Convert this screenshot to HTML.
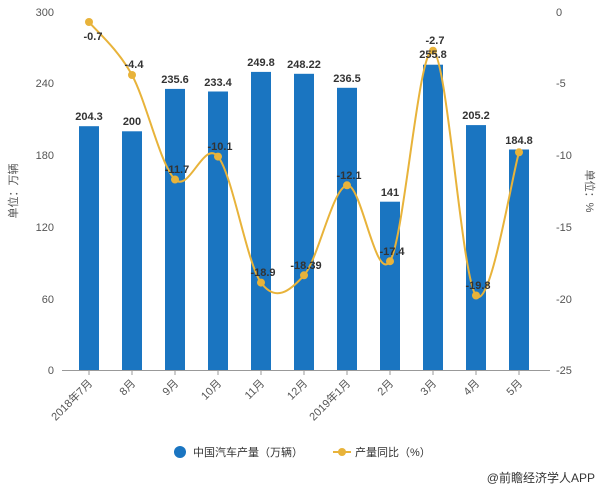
<!DOCTYPE html>
<html><head><meta charset="utf-8"><style>
html,body{margin:0;padding:0;background:#fff;}
svg{display:block;font-family:"Liberation Sans","Noto Sans CJK SC",sans-serif;}
</style></head><body>
<svg width="602" height="488" viewBox="0 0 602 488">
<g font-size="11" fill="#555">
<text x="54" y="16" text-anchor="end">300</text>
<text x="54" y="87" text-anchor="end">240</text>
<text x="54" y="159" text-anchor="end">180</text>
<text x="54" y="231" text-anchor="end">120</text>
<text x="54" y="303" text-anchor="end">60</text>
<text x="54" y="374" text-anchor="end">0</text>
<text x="556" y="16">0</text>
<text x="556" y="87">-5</text>
<text x="556" y="159">-10</text>
<text x="556" y="231">-15</text>
<text x="556" y="303">-20</text>
<text x="556" y="374">-25</text>
</g>
<text transform="translate(17,191) rotate(-90)" font-size="11" fill="#555" text-anchor="middle">单位：万辆</text>
<text transform="translate(586,191) rotate(90)" font-size="11" fill="#555" text-anchor="middle">单位：%</text>
<g fill="#1a75c1">
<rect x="79" y="126.2" width="20" height="243.8"/>
<rect x="122" y="131.3" width="20" height="238.7"/>
<rect x="165" y="88.9" width="20" height="281.1"/>
<rect x="208" y="91.5" width="20" height="278.5"/>
<rect x="251" y="71.9" width="20" height="298.1"/>
<rect x="294" y="73.8" width="20" height="296.2"/>
<rect x="337" y="87.8" width="20" height="282.2"/>
<rect x="380" y="201.7" width="20" height="168.3"/>
<rect x="423" y="64.7" width="20" height="305.3"/>
<rect x="466" y="125.1" width="20" height="244.9"/>
<rect x="509" y="149.5" width="20" height="220.5"/>
</g>
<line x1="62" y1="370.5" x2="550" y2="370.5" stroke="#999"/>
<g stroke="#999">
<line x1="89" y1="370" x2="89" y2="375"/><line x1="132" y1="370" x2="132" y2="375"/><line x1="175" y1="370" x2="175" y2="375"/><line x1="218" y1="370" x2="218" y2="375"/><line x1="261" y1="370" x2="261" y2="375"/><line x1="304" y1="370" x2="304" y2="375"/><line x1="347" y1="370" x2="347" y2="375"/><line x1="390" y1="370" x2="390" y2="375"/><line x1="433" y1="370" x2="433" y2="375"/><line x1="476" y1="370" x2="476" y2="375"/><line x1="519" y1="370" x2="519" y2="375"/>
</g>
<g font-size="11" fill="#555" text-anchor="end">
<text transform="translate(93,384) rotate(-45)">2018年7月</text>
<text transform="translate(136,384) rotate(-45)">8月</text>
<text transform="translate(179,384) rotate(-45)">9月</text>
<text transform="translate(222,384) rotate(-45)">10月</text>
<text transform="translate(265,384) rotate(-45)">11月</text>
<text transform="translate(308,384) rotate(-45)">12月</text>
<text transform="translate(351,384) rotate(-45)">2019年1月</text>
<text transform="translate(394,384) rotate(-45)">2月</text>
<text transform="translate(437,384) rotate(-45)">3月</text>
<text transform="translate(480,384) rotate(-45)">4月</text>
<text transform="translate(523,384) rotate(-45)">5月</text>
</g>
<path d="M89,22 C96.2,30.8 117.7,48.8 132,75 C146.3,101.3 160.7,165.9 175,179.5 C189.3,193.1 203.7,139.4 218,156.6 C232.3,173.8 246.7,262.8 261,282.6 C275.3,302.4 289.7,291.5 304,275.3 C318.3,259.1 332.7,187.7 347,185.3 C361.3,183 375.7,283.6 390,261.2 C404.3,238.8 418.7,45 433,50.7 C447.3,56.4 461.7,278.6 476,295.5 C490.3,312.4 511.8,176.2 519,152.3" fill="none" stroke="#e8b33a" stroke-width="2"/>
<g fill="#e8b33a">
<circle cx="89" cy="22" r="4"/><circle cx="132" cy="75" r="4"/><circle cx="175" cy="179.5" r="4"/><circle cx="218" cy="156.6" r="4"/><circle cx="261" cy="282.6" r="4"/><circle cx="304" cy="275.3" r="4"/><circle cx="347" cy="185.3" r="4"/><circle cx="390" cy="261.2" r="4"/><circle cx="433" cy="50.7" r="4"/><circle cx="476" cy="295.5" r="4"/><circle cx="519" cy="152.3" r="4"/>
</g>
<g font-size="11" font-weight="bold" fill="#333" text-anchor="middle">
<text x="89" y="120">204.3</text>
<text x="132" y="125">200</text>
<text x="175" y="83">235.6</text>
<text x="218" y="86">233.4</text>
<text x="261" y="66">249.8</text>
<text x="304" y="68">248.22</text>
<text x="347" y="82">236.5</text>
<text x="390" y="196">141</text>
<text x="433" y="58">255.8</text>
<text x="476" y="119">205.2</text>
<text x="519" y="144">184.8</text>
<text x="93" y="40">-0.7</text>
<text x="134" y="68">-4.4</text>
<text x="177" y="173">-11.7</text>
<text x="220" y="150">-10.1</text>
<text x="263" y="276">-18.9</text>
<text x="306" y="269">-18.39</text>
<text x="349" y="179">-12.1</text>
<text x="392" y="255">-17.4</text>
<text x="435" y="44">-2.7</text>
<text x="478" y="289">-19.8</text>
</g>
<circle cx="180" cy="452" r="6" fill="#1a75c1"/>
<text x="193" y="456" font-size="11" fill="#333">中国汽车产量（万辆）</text>
<line x1="333" y1="452" x2="351" y2="452" stroke="#e8b33a" stroke-width="2"/>
<circle cx="342" cy="452" r="4" fill="#e8b33a"/>
<text x="355" y="456" font-size="11" fill="#333">产量同比（%）</text>
<text x="595" y="482" font-size="12" fill="#333" text-anchor="end">@前瞻经济学人APP</text>
</svg>
</body></html>
